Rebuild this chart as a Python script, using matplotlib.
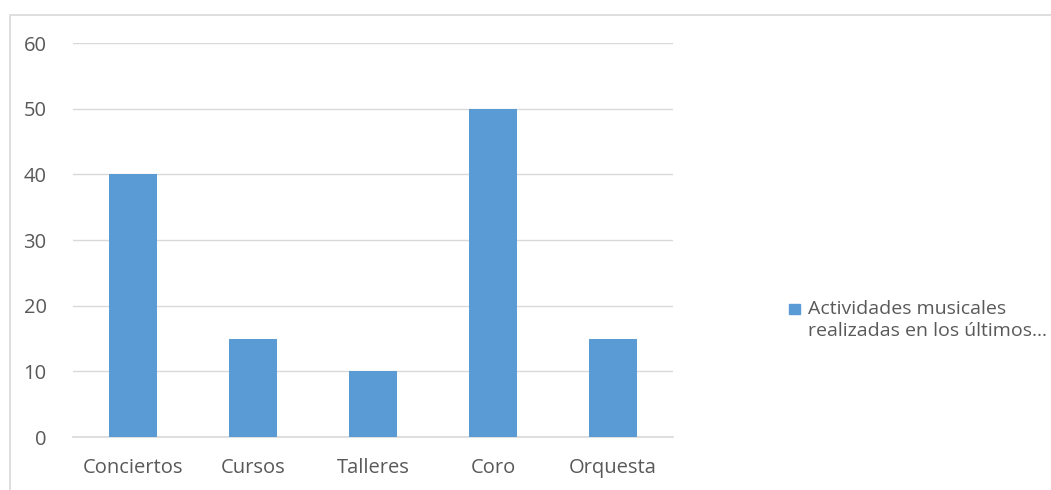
import matplotlib.pyplot as plt
from matplotlib.patches import Rectangle

categories = ['Conciertos', 'Cursos', 'Talleres', 'Coro', 'Orquesta']
values = [40, 15, 10, 50, 15]
series_name = 'Actividades musicales\nrealizadas en los últimos…'

plt.rcParams['font.family'] = ['Open Sans', 'DejaVu Sans']
gray = '#595959'
grid = '#D9D9D9'
blue = '#5B9BD5'
fs = 14.5

fig = plt.figure(figsize=(10.51, 4.9), dpi=100)
fig.patches.append(Rectangle((10 / 1051, -0.1), 1.2, (490 - 15) / 490 + 0.1,
                             transform=fig.transFigure, fill=False,
                             edgecolor=grid, linewidth=1.2))

ax = fig.add_axes([73 / 1051, 53 / 490, 600 / 1051, 394 / 490])
x = range(len(categories))
ax.bar(x, values, width=0.4, color=blue, zorder=3)
ax.set_xlim(-0.5, len(categories) - 0.5)
ax.set_ylim(0, 60)
ax.set_yticks(range(0, 61, 10))
ax.set_xticks(list(x))
ax.set_xticklabels(categories)
ax.yaxis.grid(True, color=grid, linewidth=1)
for s in ['top', 'right', 'left']:
    ax.spines[s].set_visible(False)
ax.spines['bottom'].set_color(grid)
ax.spines['bottom'].set_linewidth(1.2)
ax.tick_params(length=0, colors=gray, labelsize=fs)
ax.tick_params(axis='y', pad=19)
ax.tick_params(axis='x', pad=15)

fig.patches.append(Rectangle((789 / 1051, (490 - 314) / 490), 11 / 1051, 10 / 490,
                             transform=fig.transFigure, color=blue))
fig.text(808 / 1051, (490 - 320) / 490, series_name, color=gray, fontsize=14,
         va='center', ha='left', linespacing=1.35)

fig.savefig('out.png', dpi=100)
